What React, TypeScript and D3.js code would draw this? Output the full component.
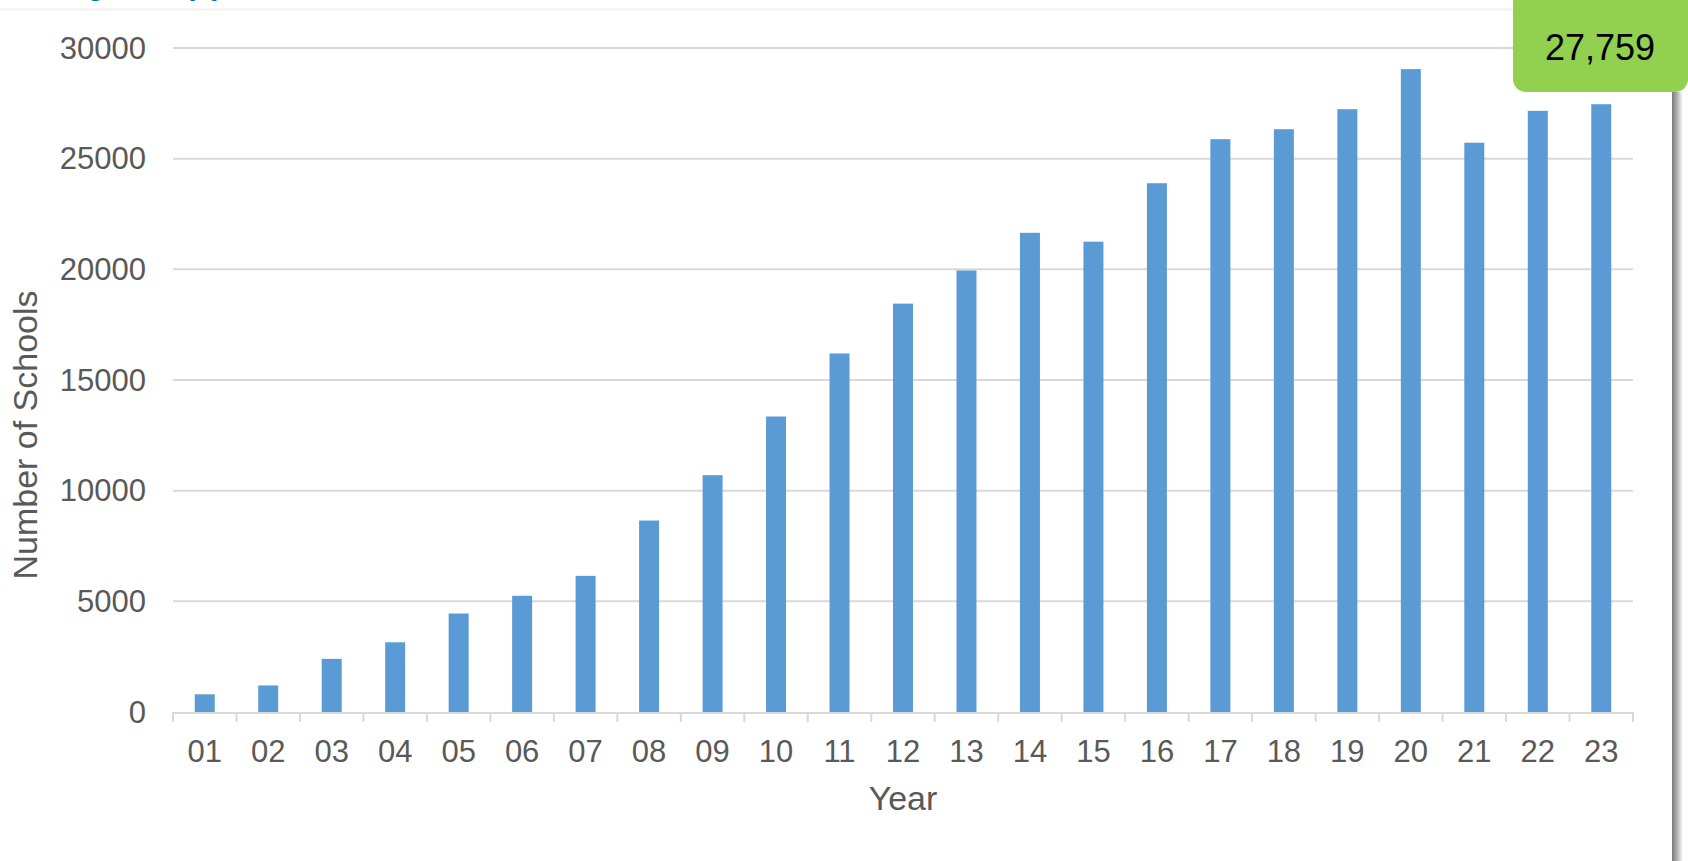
import * as React from "react"
import * as d3 from "d3"

const years = ["01", "02", "03", "04", "05", "06", "07", "08", "09", "10", "11", "12", "13", "14", "15", "16", "17", "18", "19", "20", "21", "22", "23"]
const schools = [800, 1200, 2400, 3150, 4450, 5250, 6150, 8650, 10700, 13350, 16200, 18450, 19950, 21650, 21250, 23890, 25880, 26330, 27235, 29045, 25720, 27160, 27460]
const yTicks = [0, 5000, 10000, 15000, 20000, 25000, 30000]
const callout = "27,759"
const heading = "Figure 1 (a)"

const W = 1688
const H = 861
const margin = { top: 48, right: 55, bottom: 149, left: 173 }

export default function App() {
  const innerW = W - margin.left - margin.right
  const innerH = H - margin.top - margin.bottom

  const x = d3.scaleBand<string>().domain(years).range([0, innerW]).paddingInner(0.685).paddingOuter(0.3425)
  const band = d3.scaleBand<string>().domain(years).range([0, innerW])
  const y = d3.scaleLinear().domain([0, 30000]).range([innerH, 0])

  const font = "'Liberation Sans', Arial, sans-serif"

  return (
    <svg width={W} height={H} style={{ position: "fixed", left: 0, top: 0, background: "#fff" }} fontFamily={font}>
      <defs>
        <linearGradient id="shadow" x1="0" x2="1" y1="0" y2="0">
          <stop offset="0" stopColor="#7a7a7a" />
          <stop offset="0.5" stopColor="#b5b5b5" />
          <stop offset="1" stopColor="#ffffff" />
        </linearGradient>
      </defs>

      {/* heading sits mostly above the visible area, as in the source screenshot */}
      <text x={60} y={-5} fontSize={30} fontWeight="bold" fill="#0070C0">{heading}</text>
      <line x1={0} x2={1672} y1={9.5} y2={9.5} stroke="#f2f2f2" strokeWidth={2} />

      <g transform={`translate(${margin.left},${margin.top})`}>
        {yTicks.map((t) => (
          <g key={t}>
            {t > 0 && <line x1={0} x2={innerW} y1={y(t)} y2={y(t)} stroke="#d9d9d9" strokeWidth={2} />}
            <text x={-27} y={y(t)} textAnchor="end" dominantBaseline="central" fontSize={31} fill="#595959">{t}</text>
          </g>
        ))}

        {years.map((yr, i) => (
          <rect key={yr} x={x(yr)} y={y(schools[i])} width={x.bandwidth()} height={innerH - y(schools[i])} fill="#5B9BD5" />
        ))}

        {/* x axis */}
        <line x1={0} x2={innerW} y1={innerH + 1} y2={innerH + 1} stroke="#d9d9d9" strokeWidth={2} />
        {[...years.map((yr) => band(yr) as number), innerW].map((tx, i) => (
          <line key={i} x1={tx} x2={tx} y1={innerH} y2={innerH + 10} stroke="#d9d9d9" strokeWidth={2} />
        ))}
        {years.map((yr) => (
          <text key={yr} x={(band(yr) as number) + band.bandwidth() / 2} y={innerH + 50} textAnchor="middle" fontSize={31} fill="#595959">{yr}</text>
        ))}

        <text x={innerW / 2} y={innerH + 98} textAnchor="middle" fontSize={34} fill="#595959">Year</text>
      </g>

      <text transform={`translate(37,435) rotate(-90)`} textAnchor="middle" fontSize={34} fill="#595959">Number of Schools</text>

      {/* right page shadow */}
      <rect x={1672} y={92} width={11} height={H - 92} fill="url(#shadow)" />

      {/* green callout */}
      <rect x={1513} y={-15} width={175} height={107} rx={13} fill="#92D050" />
      <text x={1600} y={47} textAnchor="middle" dominantBaseline="central" fontSize={36} fill="#000">{callout}</text>
    </svg>
  )
}
